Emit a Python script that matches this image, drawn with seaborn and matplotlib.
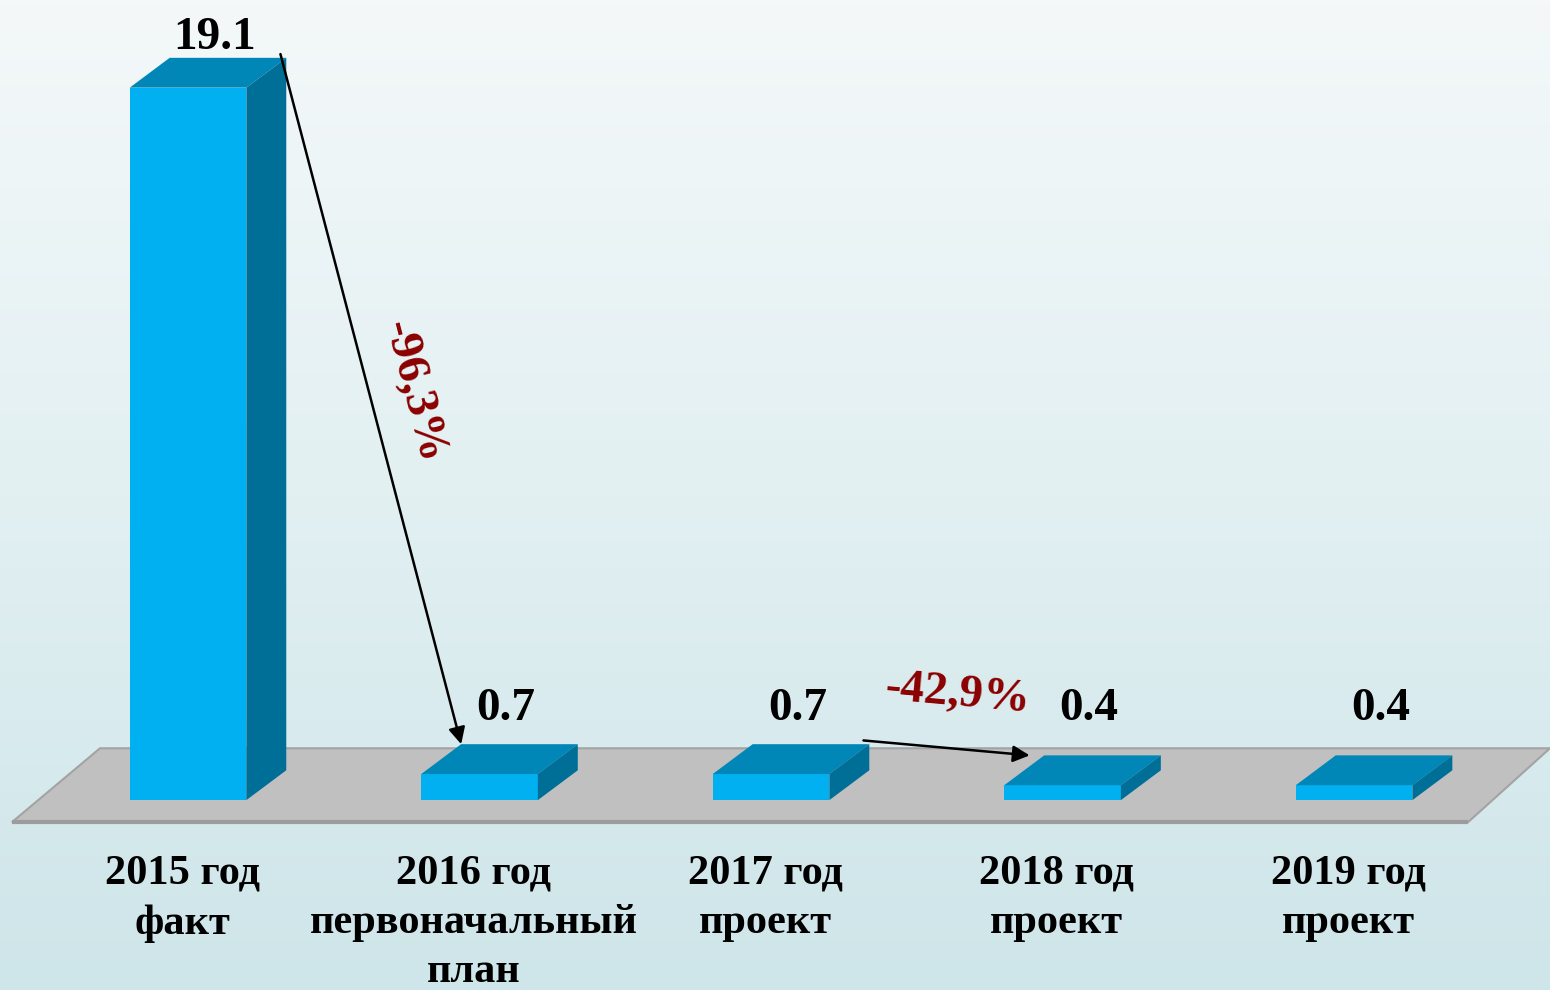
import numpy as np
import pandas as pd
import matplotlib
matplotlib.use('Agg')
import matplotlib.pyplot as plt
from matplotlib.patches import Polygon
from matplotlib.colors import LinearSegmentedColormap
import seaborn as sns

# Data
categories = ['2015 год\nфакт', '2016 год\nпервоначальный\nплан',
              '2017 год\nпроект', '2018 год\nпроект', '2019 год\nпроект']
values = [19.1, 0.7, 0.7, 0.4, 0.4]
value_labels = ['19.1', '0.7', '0.7', '0.4', '0.4']
change_labels = ['-96,3%', '-42,9%']

df = pd.DataFrame({'cat': categories, 'val': values})

sns.set_theme(style='white')
plt.rcParams['font.family'] = ['Liberation Serif', 'DejaVu Serif']

fig = plt.figure(figsize=(15.5, 9.9), dpi=100)

# Background gradient
bg = fig.add_axes([0, 0, 1, 1], zorder=0)
grad = np.linspace(0, 1, 256).reshape(-1, 1)
cmap = LinearSegmentedColormap.from_list('bg', ['#f4f8f9', '#e2f0f2', '#cee5e9'])
bg.imshow(grad, aspect='auto', cmap=cmap, extent=[0, 1, 0, 1], origin='upper')
bg.axis('off')

ax = fig.add_axes([0, 0, 1, 1], zorder=1)
ax.patch.set_alpha(0)

bar_w = 0.4
dx, dy = 0.137, 0.80          # 3d depth offset
front_col = '#00b0f0'
top_col = '#0087b8'
side_col = '#006f98'

sns.barplot(data=df, x='cat', y='val', width=bar_w, color=front_col,
            saturation=1, ax=ax, zorder=3, edgecolor='none')
bars = list(ax.patches)

n = len(categories)
ax.set_xlim(-0.645, 4.672)
ax.set_ylim(-5.09, 21.45)
ax.axis('off')

# Floor
floor = Polygon([(-0.604, -0.59), (-0.302, 1.39), (n - 1 + 0.672, 1.39), (n - 1 + 0.391, -0.59)],
                closed=True, facecolor='#c0c0c0', edgecolor='#a3a3a3', lw=1.5, zorder=1)
ax.add_patch(floor)
ax.plot([-0.604, n - 1 + 0.391], [-0.59, -0.59], color='#9c9c9c', lw=3, zorder=1.5,
        solid_capstyle='butt')

# Top and side faces for each bar
for p in bars:
    x0, w, h = p.get_x(), p.get_width(), p.get_height()
    top = Polygon([(x0, h), (x0 + dx, h + dy), (x0 + w + dx, h + dy), (x0 + w, h)],
                  closed=True, facecolor=top_col, edgecolor='none', zorder=3)
    side = Polygon([(x0 + w, 0), (x0 + w + dx, dy), (x0 + w + dx, h + dy), (x0 + w, h)],
                   closed=True, facecolor=side_col, edgecolor='none', zorder=3)
    ax.add_patch(top)
    ax.add_patch(side)

# Value labels
for i, (v, lab) in enumerate(zip(values, value_labels)):
    ypos = max(v + dy - 0.02, 1.88)
    ax.text(i + 0.09, ypos, lab, ha='center', va='bottom', fontsize=34,
            fontweight='bold', color='black', zorder=5)

# Category labels
for i, cat in enumerate(categories):
    ax.text(i - 0.02, -1.45, cat, ha='center', va='top', fontsize=30.5,
            fontweight='bold', color='black', linespacing=1.4, zorder=5)

# Change arrows
pairs = [(0, 1), (2, 3)]
for (a, b), lab in zip(pairs, change_labels):
    start = (a + bar_w / 2 + dx - 0.02, values[a] + dy + 0.1)
    end = (b - bar_w / 2 + dx + (0.0 if a == 0 else -0.05), values[b] + dy)
    ax.annotate('', xy=end, xytext=start,
                arrowprops=dict(arrowstyle='-|>', color='black', lw=1.8,
                                mutation_scale=25, shrinkA=0, shrinkB=0),
                zorder=4)
    p0 = ax.transData.transform(start)
    p1 = ax.transData.transform(end)
    ang = np.degrees(np.arctan2(p1[1] - p0[1], p1[0] - p0[0]))
    if a == 0:
        mid = ((start[0] + end[0]) / 2 + 0.145, (start[1] + end[1]) / 2 + 0.2)
        ax.text(*mid, lab, rotation=ang, rotation_mode='anchor', ha='center', va='center',
                fontsize=34, fontweight='bold', color='#8b0000', zorder=5)
    else:
        ax.text(2.64, 2.82, lab, rotation=ang, rotation_mode='anchor', ha='center', va='center',
                fontsize=34, fontweight='bold', color='#8b0000', zorder=5)

fig.savefig('out.png', dpi=100)
plt.close()
